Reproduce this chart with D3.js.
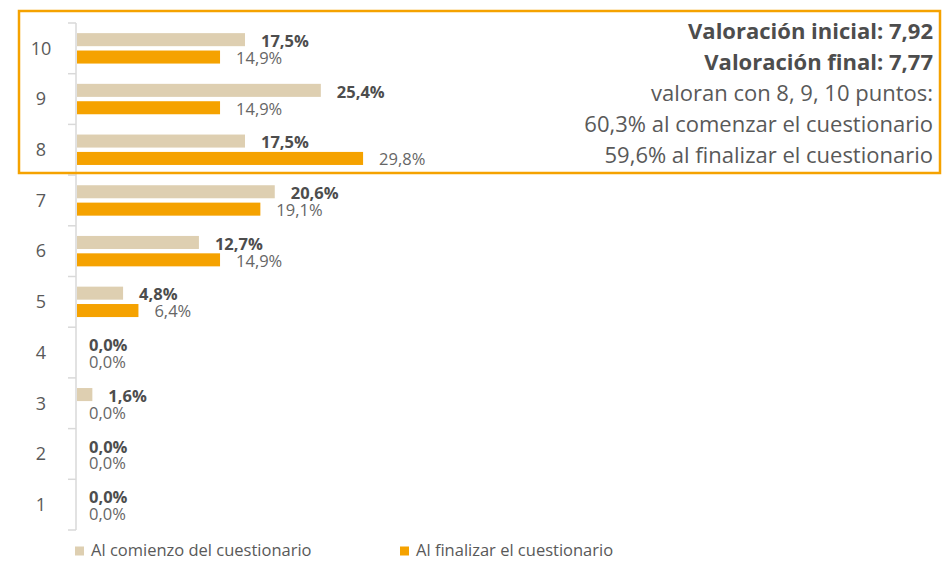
<!DOCTYPE html>
<html>
<head>
<meta charset="utf-8">
<script src="https://cdn.jsdelivr.net/npm/d3@7"></script>
<style>
  body { margin: 0; background: #fff; }
  svg { display: block; font-family: "Open Sans", sans-serif; }
</style>
</head>
<body>
<svg width="942" height="561"></svg>
<script>
const categories = ['10', '9', '8', '7', '6', '5', '4', '3', '2', '1'];
const inicial = [17.5, 25.4, 17.5, 20.6, 12.7, 4.8, 0.0, 1.6, 0.0, 0.0];
const final = [14.9, 14.9, 29.8, 19.1, 14.9, 6.4, 0.0, 0.0, 0.0, 0.0];
const seriesNames = ['Al comienzo del cuestionario', 'Al finalizar el cuestionario'];
const noteLines = [
  'Valoración inicial: 7,92',
  'Valoración final: 7,77',
  'valoran con 8, 9, 10 puntos:',
  '60,3% al comenzar el cuestionario',
  '59,6% al finalizar el cuestionario'
];

const colors = ['#DECFB1', '#F5A200'];
const svg = d3.select('svg');

const data = categories.map((c, i) => ({ cat: c, vals: [inicial[i], final[i]] }));

const y = d3.scaleBand()
  .domain(categories)
  .range([23, 530])
  .paddingInner(0.4)
  .paddingOuter(0.2);

const ySub = d3.scaleBand()
  .domain([0, 1])
  .range([0, y.bandwidth()])
  .paddingInner(0.25);

const x = d3.scaleLinear().domain([0, 30]).range([77, 365]);

const fmt = v => d3.format('.1f')(v).replace('.', ',') + '%';

// axis line + ticks at band boundaries
const step = y.step();
const axisTop = 23;
const bounds = d3.range(categories.length + 1).map(i => axisTop + i * step);
svg.append('line')
  .attr('x1', 76).attr('x2', 76)
  .attr('y1', axisTop).attr('y2', 530)
  .attr('stroke', '#d9d9d9').attr('stroke-width', 1.5);
svg.selectAll('.tick')
  .data(bounds)
  .enter()
  .append('line')
  .attr('x1', 68).attr('x2', 76)
  .attr('y1', d => d).attr('y2', d => d)
  .attr('stroke', '#d9d9d9').attr('stroke-width', 1.5);

// category labels
svg.selectAll('.cat')
  .data(categories)
  .enter()
  .append('text')
  .attr('x', 41)
  .attr('y', d => y(d) + y.bandwidth() / 2)
  .attr('dy', '0.35em')
  .attr('text-anchor', 'middle')
  .attr('font-size', 18)
  .attr('fill', '#595959')
  .text(d => d);

const groups = svg.selectAll('.grp')
  .data(data)
  .enter()
  .append('g')
  .attr('transform', d => `translate(0,${y(d.cat)})`);

groups.selectAll('rect')
  .data(d => d.vals)
  .enter()
  .append('rect')
  .attr('x', x(0))
  .attr('y', (d, i) => ySub(i))
  .attr('width', d => x(d) - x(0))
  .attr('height', ySub.bandwidth())
  .attr('fill', (d, i) => colors[i]);

groups.selectAll('.lbl')
  .data(d => d.vals)
  .enter()
  .append('text')
  .attr('x', d => d === 0 ? 89 : x(d) + 16)
  .attr('y', (d, i) => ySub(i) + ySub.bandwidth() / 2 + (i === 0 ? 1.5 : 1))
  .attr('dy', '0.35em')
  .attr('font-size', 16.5)
  .attr('font-weight', (d, i) => i === 0 ? 700 : 400)
  .attr('fill', (d, i) => i === 0 ? '#4d4d4d' : '#666')
  .text(d => fmt(d));

// highlighted box
svg.append('rect')
  .attr('x', 19).attr('y', 11)
  .attr('width', 921).attr('height', 162)
  .attr('fill', 'none')
  .attr('stroke', '#F5A200')
  .attr('stroke-width', 2.5);

svg.selectAll('.note')
  .data(noteLines)
  .enter()
  .append('text')
  .attr('x', 933)
  .attr('y', (d, i) => 39 + i * 31)
  .attr('text-anchor', 'end')
  .attr('font-size', 22)
  .attr('font-weight', (d, i) => i < 2 ? 700 : 400)
  .attr('fill', (d, i) => i < 2 ? '#4d4d4d' : '#595959')
  .text(d => d);

// legend
const legX = [75, 400];
const leg = svg.selectAll('.leg')
  .data(seriesNames)
  .enter()
  .append('g')
  .attr('transform', (d, i) => `translate(${legX[i]},550)`);
leg.append('rect')
  .attr('x', 0).attr('y', -3.5)
  .attr('width', 9).attr('height', 9)
  .attr('fill', (d, i) => colors[i]);
leg.append('text')
  .attr('x', 16)
  .attr('dy', '0.35em')
  .attr('font-size', 16.5)
  .attr('fill', '#595959')
  .text(d => d);
</script>
</body>
</html>
